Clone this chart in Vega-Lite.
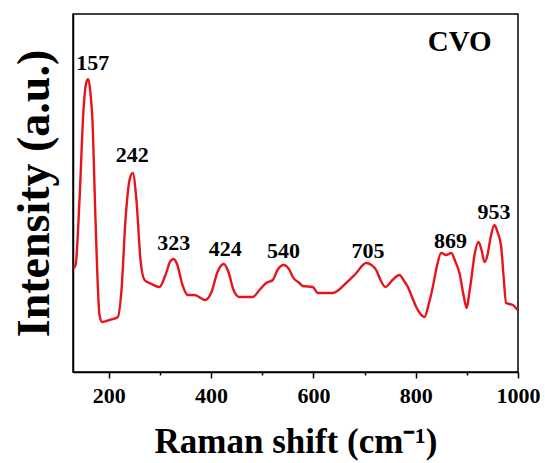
{
  "$schema": "https://vega.github.io/schema/vega-lite/v6.json",
  "width": 445,
  "height": 358,
  "autosize": {"type": "none"},
  "padding": {"left": 73, "top": 14, "right": 27, "bottom": 91},
  "background": "white",
  "config": {
    "view": {"stroke": "black", "strokeWidth": 1.5},
    "font": "Liberation Serif"
  },
  "datasets": {
    "spectrum": [
      {"shift": 131, "intensity": 104},
      {"shift": 135, "intensity": 107},
      {"shift": 142.7, "intensity": 172},
      {"shift": 150.5, "intensity": 262},
      {"shift": 155, "intensity": 287},
      {"shift": 159.7, "intensity": 293},
      {"shift": 164, "intensity": 280},
      {"shift": 168, "intensity": 252},
      {"shift": 174, "intensity": 152},
      {"shift": 181.8, "intensity": 57},
      {"shift": 187, "intensity": 50},
      {"shift": 201.4, "intensity": 52},
      {"shift": 217.6, "intensity": 55},
      {"shift": 224.8, "intensity": 82},
      {"shift": 232.6, "intensity": 152},
      {"shift": 240.5, "intensity": 192},
      {"shift": 246.9, "intensity": 199},
      {"shift": 254, "intensity": 172},
      {"shift": 262, "intensity": 112},
      {"shift": 269.8, "intensity": 92},
      {"shift": 283.5, "intensity": 88},
      {"shift": 299, "intensity": 85},
      {"shift": 310.8, "intensity": 97},
      {"shift": 320.6, "intensity": 111},
      {"shift": 327, "intensity": 113},
      {"shift": 334, "intensity": 107},
      {"shift": 344, "intensity": 87},
      {"shift": 354.4, "intensity": 77},
      {"shift": 367.5, "intensity": 77},
      {"shift": 388.5, "intensity": 72},
      {"shift": 400.8, "intensity": 80},
      {"shift": 412.5, "intensity": 100},
      {"shift": 424.8, "intensity": 108},
      {"shift": 434, "intensity": 100},
      {"shift": 443.8, "intensity": 82},
      {"shift": 455.5, "intensity": 75},
      {"shift": 481.5, "intensity": 75},
      {"shift": 494.6, "intensity": 82},
      {"shift": 507.7, "intensity": 89},
      {"shift": 520.6, "intensity": 92},
      {"shift": 529.8, "intensity": 102},
      {"shift": 542, "intensity": 107},
      {"shift": 553.3, "intensity": 102},
      {"shift": 559.7, "intensity": 95},
      {"shift": 572.8, "intensity": 89},
      {"shift": 579.3, "intensity": 86},
      {"shift": 598.8, "intensity": 85},
      {"shift": 608.6, "intensity": 79},
      {"shift": 637.9, "intensity": 79},
      {"shift": 664.1, "intensity": 89},
      {"shift": 682.3, "intensity": 98},
      {"shift": 703.2, "intensity": 109},
      {"shift": 713.5, "intensity": 107},
      {"shift": 722.8, "intensity": 102},
      {"shift": 731.2, "intensity": 92},
      {"shift": 740.9, "intensity": 85},
      {"shift": 754.6, "intensity": 92},
      {"shift": 768.3, "intensity": 97},
      {"shift": 776.1, "intensity": 92},
      {"shift": 784.6, "intensity": 85},
      {"shift": 792.8, "intensity": 75},
      {"shift": 801, "intensity": 65},
      {"shift": 809.4, "intensity": 58},
      {"shift": 817.2, "intensity": 55},
      {"shift": 825, "intensity": 67},
      {"shift": 833.4, "intensity": 85},
      {"shift": 840.7, "intensity": 104},
      {"shift": 849.9, "intensity": 119},
      {"shift": 859.6, "intensity": 117},
      {"shift": 869.4, "intensity": 119},
      {"shift": 877.8, "intensity": 110},
      {"shift": 885.6, "intensity": 99},
      {"shift": 893.5, "intensity": 77},
      {"shift": 899.9, "intensity": 64},
      {"shift": 904.2, "intensity": 77},
      {"shift": 908.5, "intensity": 92},
      {"shift": 915, "intensity": 117},
      {"shift": 922.8, "intensity": 130},
      {"shift": 928.7, "intensity": 122},
      {"shift": 934.5, "intensity": 110},
      {"shift": 940.4, "intensity": 117},
      {"shift": 946.2, "intensity": 134},
      {"shift": 954, "intensity": 147},
      {"shift": 959.9, "intensity": 140},
      {"shift": 967.2, "intensity": 125},
      {"shift": 971.6, "intensity": 97},
      {"shift": 976.9, "intensity": 69},
      {"shift": 983.4, "intensity": 68},
      {"shift": 989.8, "intensity": 67},
      {"shift": 999, "intensity": 62}
    ],
    "labels": [
      {"shift": 168.7, "intensity": 309, "text": "157", "size": 22},
      {"shift": 245.8, "intensity": 217, "text": "242", "size": 22},
      {"shift": 327.2, "intensity": 129, "text": "323", "size": 22},
      {"shift": 427.7, "intensity": 123, "text": "424", "size": 22},
      {"shift": 541.7, "intensity": 121, "text": "540", "size": 22},
      {"shift": 706.6, "intensity": 121, "text": "705", "size": 22},
      {"shift": 867.8, "intensity": 131, "text": "869", "size": 22},
      {"shift": 953.1, "intensity": 160, "text": "953", "size": 22},
      {"shift": 886, "intensity": 330, "text": "CVO", "size": 29}
    ]
  },
  "encoding": {
    "x": {
      "field": "shift",
      "type": "quantitative",
      "scale": {"domain": [130, 1000], "nice": false, "zero": false},
      "axis": {
        "title": "Raman shift (cm⁻¹)",
        "titleFont": "Liberation Serif",
        "titleFontSize": 35,
        "titleFontWeight": "bold",
        "titleColor": "black",
        "titlePadding": 18,
        "values": [200, 300, 400, 500, 600, 700, 800, 900, 1000],
        "labelExpr": "datum.value % 200 == 0 ? datum.label : ''",
        "labelFont": "Liberation Serif",
        "labelFontSize": 22,
        "labelFontWeight": "bold",
        "labelColor": "black",
        "labelPadding": 7,
        "labelFlush": false,
        "labelOverlap": false,
        "format": "d",
        "tickSize": {"condition": {"test": "datum.value % 200 == 0", "value": 6}, "value": 3},
        "tickColor": "black",
        "tickWidth": 1.5,
        "domainColor": "black",
        "domainWidth": 1.5,
        "grid": false
      }
    },
    "y": {
      "field": "intensity",
      "type": "quantitative",
      "scale": {"domain": [0, 358], "nice": false, "zero": false},
      "axis": {
        "title": "Intensity (a.u.)",
        "titleFont": "Liberation Serif",
        "titleFontSize": 46,
        "titleFontWeight": "bold",
        "titleColor": "black",
        "titlePadding": 15,
        "labels": false,
        "ticks": false,
        "grid": false,
        "domainColor": "black",
        "domainWidth": 1.5
      }
    }
  },
  "layer": [
    {
      "data": {"name": "spectrum"},
      "mark": {"type": "line", "color": "#e8141b", "strokeWidth": 2.4, "interpolate": "monotone"}
    },
    {
      "data": {"name": "labels"},
      "mark": {"type": "text", "font": "Liberation Serif", "fontWeight": "bold", "color": "black", "baseline": "middle", "align": "center"},
      "encoding": {
        "text": {"field": "text"},
        "size": {"field": "size", "type": "quantitative", "scale": null}
      }
    }
  ]
}
